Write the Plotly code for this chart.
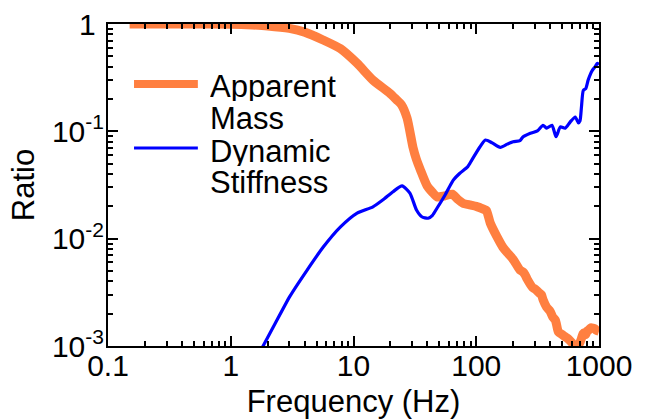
import plotly.graph_objects as go

# ---- data ----
mass_freq = [0.15, 0.3, 0.5, 1.0, 1.5, 2.0, 3.0, 4.0, 5.65, 7.8, 10.7, 14.4, 19.8, 22.5, 24.5,
             27.3, 30.5, 32.5, 35.0, 39.8, 44.0, 48.0, 55.0, 63.8, 70.0, 78.0, 89.0, 100.0, 115.0,
             121.0, 130.0, 147.0, 165.0, 179.0, 200.0, 227.0, 240.0, 250.0, 260.0, 288.0, 300.0,
             310.0, 328.0, 340.0, 350.0, 374.0, 400.0, 420.0, 440.0, 450.0, 467.0, 500.0, 530.0,
             553.0, 580.0, 610.0, 620.0, 650.0, 680.0, 700.0, 720.0, 740.0, 760.0, 780.0, 800.0,
             820.0, 860.0, 890.0, 920.0, 950.0, 1000.0]
mass_ratio = [1.0, 1.0, 1.0, 0.995, 0.98, 0.96, 0.91, 0.84, 0.71, 0.59, 0.43, 0.30, 0.226, 0.196, 0.178,
              0.133, 0.071, 0.055, 0.044, 0.031, 0.027, 0.0245, 0.025, 0.026, 0.0235, 0.0214, 0.0206, 0.020, 0.0188,
              0.0183, 0.014, 0.0105, 0.0083, 0.0074, 0.0064, 0.0051, 0.0049, 0.0046, 0.0042, 0.0035, 0.0034,
              0.0033, 0.0031, 0.0030, 0.0027, 0.0023, 0.0021, 0.00186, 0.00175, 0.0016, 0.00135, 0.00128, 0.00122,
              0.00118, 0.00112, 0.00105, 0.00100, 0.00102, 0.00102, 0.00108, 0.00118, 0.0013, 0.00133, 0.00128, 0.00138,
              0.0014, 0.00148, 0.00147, 0.00145, 0.0014, 0.00137]

stiff_freq = [1.7, 2.22, 3.03, 4.19, 5.65, 7.8, 10.7, 14.4, 17.4, 21.0, 24.9, 28.8, 32.6, 36.0, 40.5,
              44.0, 48.0, 55.6, 65.0, 73.5, 85.0, 92.0, 107.0, 119.0, 135.0, 157.0, 179.0, 200.0, 227.0,
              241.0, 276.0, 315.0, 350.0, 374.0, 414.0, 447.0, 484.0, 530.0, 582.0, 640.0, 680.0, 700.0,
              720.0, 745.0, 780.0, 816.0, 850.0, 882.0, 930.0, 970.0, 1000.0]
stiff_ratio = [0.00085, 0.0015, 0.0029, 0.0051, 0.0083, 0.0128, 0.0173, 0.0198, 0.023, 0.0274, 0.031, 0.0266, 0.0185, 0.016, 0.0155,
               0.0165, 0.0193, 0.0254, 0.0351, 0.0407, 0.0466, 0.054, 0.0715, 0.083, 0.078, 0.071, 0.076, 0.080, 0.082,
               0.089, 0.096, 0.101, 0.114, 0.107, 0.114, 0.089, 0.11, 0.107, 0.122, 0.136, 0.12, 0.125,
               0.17, 0.24, 0.25, 0.30, 0.34, 0.37, 0.40, 0.43, 0.42]

y_tickvals = [0.001, 0.01, 0.1, 1]
y_ticktext = ["10<sup>-3</sup>", "10<sup>-2</sup>", "10<sup>-1</sup>", "1\u00a0"]
x_tickvals = [0.1, 1, 10, 100, 1000]
x_ticktext = ["0.1", "1", "10", "100", "1000"]

ORANGE = "#FF7F40"
BLUE = "#0000FF"
FONT = "Liberation Sans, Arial, sans-serif"


def minor_vals(lo_exp, hi_exp):
    return [m * 10.0 ** e for e in range(lo_exp, hi_exp) for m in range(2, 10)]


fig = go.Figure()
fig.add_trace(go.Scatter(x=mass_freq, y=mass_ratio, mode="lines", name="Apparent Mass",
                         line=dict(color=ORANGE, width=9, shape="spline", smoothing=0.6),
                         showlegend=False))
# drawn on the overlay axes (same log ranges) which also carry the minor ticks
fig.add_trace(go.Scatter(x=stiff_freq, y=stiff_ratio, mode="lines", name="Dynamic Stiffness",
                         line=dict(color=BLUE, width=3.2, shape="spline", smoothing=0.6),
                         showlegend=False, xaxis="x2", yaxis="y2"))

major_common = dict(
    showline=True, linecolor="black", linewidth=2, mirror="ticks",
    ticks="inside", ticklen=10, tickwidth=2, tickcolor="black",
    showgrid=False, zeroline=False, automargin=False,
    tickfont=dict(family=FONT, size=30, color="black"),
)
minor_common = dict(
    showline=False, mirror="ticks", ticks="inside", ticklen=5, tickwidth=1.5, tickcolor="black",
    showgrid=False, zeroline=False, automargin=False, showticklabels=False,
)

fig.update_layout(
    xaxis=dict(type="log", range=[-1, 3], tickmode="array", tickvals=x_tickvals, ticktext=x_ticktext,
               ticklabelstandoff=-8,
               title=dict(text="Frequency (Hz)", font=dict(family=FONT, size=31, color="black"), standoff=22),
               **major_common),
    yaxis=dict(type="log", range=[-3, 0], tickmode="array", tickvals=y_tickvals, ticktext=y_ticktext,
               ticklabelstandoff=-4,
               title=dict(text="Ratio", font=dict(family=FONT, size=31, color="black"), standoff=8),
               **major_common),
    # overlay axes carrying the minor ticks
    xaxis2=dict(type="log", range=[-1, 3], overlaying="x", side="bottom", anchor="y2",
                tickmode="array", tickvals=minor_vals(-1, 3), **minor_common),
    yaxis2=dict(type="log", range=[-3, 0], overlaying="y", side="left", anchor="x2",
                tickmode="array", tickvals=minor_vals(-3, 0), **minor_common),
)

# manual legend (long line samples, tight line spacing as in the reference)
fig.add_shape(type="line", xref="paper", yref="paper", x0=0.053, x1=0.183, y0=0.8137, y1=0.8137,
              line=dict(color=ORANGE, width=8))
fig.add_shape(type="line", xref="paper", yref="paper", x0=0.053, x1=0.183, y0=0.615, y1=0.615,
              line=dict(color=BLUE, width=3))
legend_lines = [("Apparent", 0.806), ("Mass", 0.708), ("Dynamic", 0.606), ("Stiffness", 0.509)]
for txt, yy in legend_lines:
    fig.add_annotation(text=txt, xref="paper", yref="paper", x=0.2057, y=yy, xanchor="left",
                       yanchor="middle", showarrow=False, height=30, borderpad=0,
                       font=dict(family=FONT, size=31, color="black"))

fig.update_layout(
    width=646, height=419,
    margin=dict(l=108, r=47, t=24, b=73, autoexpand=False),
    paper_bgcolor="white", plot_bgcolor="white",
    font=dict(family=FONT, color="black"),
)

fig.write_html("out.html")
